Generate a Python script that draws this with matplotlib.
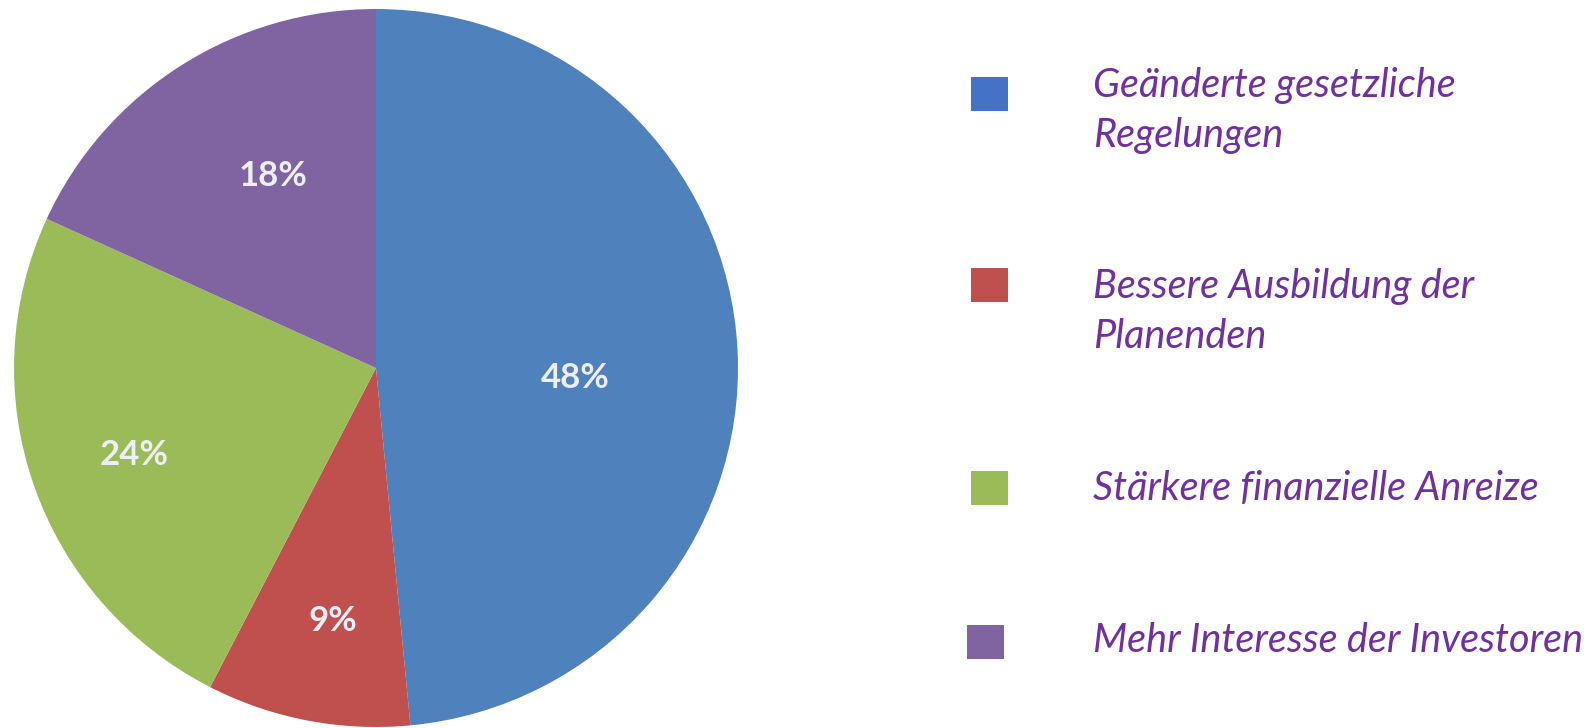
import matplotlib.pyplot as plt
import numpy as np

# data
categories = ["Geänderte gesetzliche\nRegelungen",
              "Bessere Ausbildung der\nPlanenden",
              "Stärkere finanzielle Anreize",
              "Mehr Interesse der Investoren"]
values = [48, 9, 24, 18]

slice_colors = ["#4F81BD", "#C0504D", "#9BBB59", "#8064A2"]
box_colors = ["#4472C4", "#C0504D", "#9BBB59", "#8064A2"]
text_color = "#7030A0"

W, H = 1589, 728
fig = plt.figure(figsize=(W / 100, H / 100), dpi=100)

# pie area (pixels)
cx, cy, rx, ry = 376, 368, 362, 359
ax = fig.add_axes([(cx - rx) / W, (H - cy - ry) / H, 2 * rx / W, 2 * ry / H])
wedges, texts, autotexts = ax.pie(values, colors=slice_colors, startangle=90,
                                  counterclock=False, autopct="%1.0f%%",
                                  wedgeprops=dict(linewidth=0),
                                  textprops=dict(color="#EEEEF5", fontsize=25,
                                                 fontweight="bold", family="Lato"))
# label placement: radius and angle shift from wedge middle
label_r = [0.55, 0.715, 0.71, 0.606]
label_shift = [-5.6, 1.4, 0.9, -4.9]
for w, t, r, s, v in zip(wedges, autotexts, label_r, label_shift, values):
    mid = np.deg2rad((w.theta1 + w.theta2) / 2 + s)
    t.set_position((r * np.cos(mid), r * np.sin(mid)))
    t.set_text(f"{v}%")
ax.set_xlim(-1, 1)
ax.set_ylim(-1, 1)
ax.set_aspect("auto")
ax.axis("off")

# legend (drawn by hand in figure pixels)
lax = fig.add_axes([0, 0, 1, 1])
lax.set_xlim(0, W)
lax.set_ylim(H, 0)
lax.axis("off")
box_y = [94, 285, 488, 642]
box_x = [989.5, 989.5, 989.5, 985.5]
text_top = [67, 268, 470, 622]
for i, cat in enumerate(categories):
    lax.add_patch(plt.Rectangle((box_x[i] - 18.5, box_y[i] - 17), 37, 34,
                                color=box_colors[i], lw=0))
    lax.text(1093, text_top[i], cat, fontsize=28.5, style="italic",
             family="Lato", color=text_color, va="top", ha="left",
             linespacing=1.42)

fig.savefig("out.png", dpi=100)
